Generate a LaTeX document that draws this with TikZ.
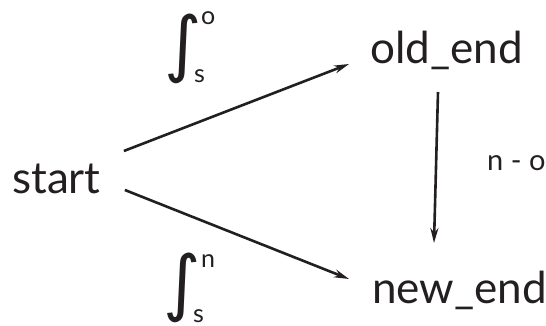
\documentclass[tikz,border=0pt]{standalone}
\usepackage{fontspec}
\setmainfont{Lato}
\newfontfamily\intfont{DejaVu Sans}
\usetikzlibrary{arrows.meta,calc}
\definecolor{ink}{HTML}{231F20}
\begin{document}
\begin{tikzpicture}[x=1pt,y=1pt,
  lbl/.style={inner sep=0pt,anchor=base west,font=\fontsize{44}{44}\selectfont,text=ink},
  sml/.style={inner sep=0pt,anchor=base west,font=\fontsize{25}{25}\selectfont,text=ink},
  intg/.style={inner sep=0pt,font=\intfont\fontsize{72}{72}\selectfont,text=ink},
  arr/.style={line width=2.6pt,draw=ink,-{Stealth[length=15pt,width=8pt]}}]
\path[use as bounding box] (0,0) rectangle (546,-326);
\node[lbl] (start) at (12,-193) {start};
\node[lbl] (old) at (370,-64) {old\_end};
\node[lbl] (new) at (372,-303) {new\_end};
\node[sml,font=\fontsize{29}{29}\selectfont] (diff) at (487,-170) {n - o};
\node[intg] (int1) at (183,-49) {∫};
\node[sml] (sup1) at (201,-25) {o};
\node[sml] (sub1) at (194,-83) {s};
\node[intg] (int2) at (182,-288) {∫};
\node[sml] (sup2) at (201,-267) {n};
\node[sml] (sub2) at (193,-322) {s};
\draw[arr] ([shift={(23,42)}]start.base east) -- ([shift={(-21,0)}]old.base west);
\draw[arr] ([shift={(24,3)}]start.base east) -- ([shift={(-23,24)}]new.base west);
\draw[arr] ([shift={(68,-28)}]old.base west) -- ([shift={(62,60)}]new.base west);
\end{tikzpicture}
\end{document}
